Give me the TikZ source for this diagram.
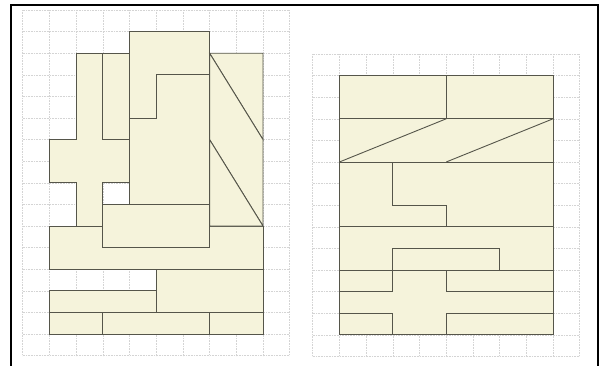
\documentclass[tikz,border=0pt]{standalone}
\usetikzlibrary{calc}
\definecolor{piecefill}{HTML}{F5F3DB}
\definecolor{pieceline}{HTML}{55554A}
\definecolor{gridgray}{HTML}{D4D4D4}
\tikzset{
  piece/.style={fill=piecefill,draw=pieceline,line width=0.9pt},
  cut/.style={draw=pieceline,line width=0.9pt},
  gridline/.style={draw=gridgray,densely dotted,line width=0.6pt}
}

\begin{document}
\begin{tikzpicture}[x=1pt,y=-1pt]
  \useasboundingbox (0,0) rectangle (602,365);
  % frame, open at the bottom
  \draw[line width=2.5pt] (11,366) -- (11,5) -- (598,5) -- (598,366);
  % left puzzle
  \begin{scope}[shift={(22.7pt,-10pt)},x=26.7pt,y=-21.6pt]
    \foreach \i in {0,...,10} \draw[gridline] (\i,0) -- (\i,16);
    \foreach \j in {0,...,16} \draw[gridline] (0,\j) -- (10,\j);
    \draw[piece] (1,10) rectangle (9,12);
    % cross
    \draw[piece] (2,2) -- (3,2) -- (3,6) -- (4,6) -- (4,8) -- (3,8) -- (3,10)
      -- (2,10) -- (2,8) -- (1,8) -- (1,6) -- (2,6) -- cycle;
    \draw[piece] (3,2) rectangle (4,6);
    % stepped pair
    \draw[piece] (4,1) -- (7,1) -- (7,3) -- (5,3) -- (5,5) -- (4,5) -- cycle;
    \draw[piece] (5,3) -- (7,3) -- (7,9) -- (4,9) -- (4,5) -- (5,5) -- cycle;
    % slanted strip
    \draw[piece] (7,2) -- (9,2) -- (9,6) -- cycle;
    \draw[piece] (7,2) -- (9,6) -- (9,10) -- (7,6) -- cycle;
    \draw[piece] (7,6) -- (9,10) -- (7,10) -- cycle;
    \draw[piece] (3,9) rectangle (7,11);
    % bottom rows
    \draw[piece] (5,12) rectangle (9,14);
    \draw[piece] (1,13) rectangle (5,14);
    \draw[piece] (1,14) rectangle (3,15);
    \draw[piece] (3,14) rectangle (7,15);
    \draw[piece] (7,14) rectangle (9,15);
  \end{scope}
  % right puzzle
  \begin{scope}[shift={(312.7pt,-54pt)},x=26.7pt,y=-21.6pt]
    \foreach \i in {0,...,10} \draw[gridline] (\i,0) -- (\i,14);
    \foreach \j in {0,...,14} \draw[gridline] (0,\j) -- (10,\j);
    \draw[piece] (1,1) rectangle (9,13);
    \draw[cut] (5,1) -- (5,3);
    \draw[cut] (1,3) -- (9,3);
    \draw[cut] (1,5) -- (5,3);
    \draw[cut] (5,5) -- (9,3);
    \draw[cut] (1,5) -- (9,5);
    \draw[cut] (3,5) -- (3,7) -- (5,7) -- (5,8);
    \draw[cut] (1,8) -- (9,8);
    \draw[cut] (3,11) -- (3,9) -- (7,9) -- (7,10);
    \draw[cut] (1,10) -- (9,10);
    \draw[cut] (1,11) -- (3,11);
    \draw[cut] (5,10) -- (5,11) -- (9,11);
    \draw[cut] (1,12) -- (3,12) -- (3,13);
    \draw[cut] (9,12) -- (5,12) -- (5,13);
  \end{scope}
\end{tikzpicture}
\end{document}
